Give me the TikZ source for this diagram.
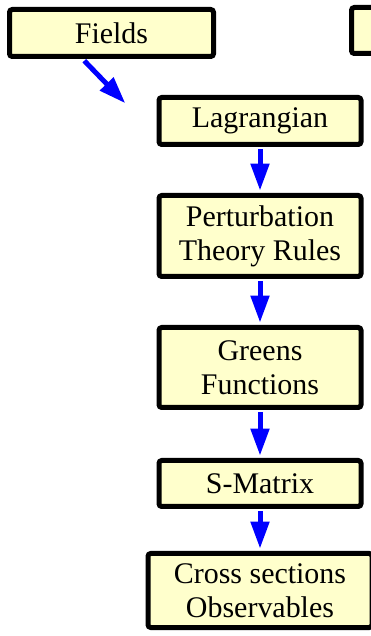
\documentclass[tikz,border=0pt]{standalone}
\usepackage{fontspec}
\setmainfont{Liberation Serif}
\usepackage{xcolor}
\usetikzlibrary{arrows.meta}
\definecolor{boxfill}{HTML}{FFFFCC}

\begin{document}
\begin{tikzpicture}[
        box/.style={draw=black, line width=0.125cm, rounded corners=0.07cm, fill=boxfill,
            minimum width=5.05cm, minimum height=1.175cm, inner sep=0pt, align=center,
            font=\fontsize{21.3}{24.2}\selectfont},
        flow/.style={draw=blue, line width=0.125cm, shorten <=0.06cm, shorten >=0.06cm,
            -{Triangle[length=0.675cm, width=0.45cm]}}
    ]
        \useasboundingbox (0,0) rectangle (9.275,15.9);

        % Top row
        \node[box, minimum width=5.1cm] (fields) at (2.7875,15.075) {Fields};
        \node[box, minimum width=5.1cm, minimum height=1.15cm] (other) at (11.3375,15.1375) {};
        \coordinate (lagin) at (3.175,13.275);

        % Chain
        \node[box] (lagr) at (6.5,12.875) {Lagrangian};
        \node[box, minimum height=2.025cm] (pert) at (6.5,10.0) {Perturbation\\Theory Rules};
        \node[box, minimum height=2.0cm] (greens) at (6.5,6.7125) {Greens\\Functions};
        \node[box, minimum height=1.15cm] (smat) at (6.5,3.8125) {S-Matrix};
        \node[box, minimum width=5.6cm, minimum height=1.85cm] (cross) at (6.5,1.1375) {Cross sections\\Observables};

        % Arrows
        \draw[flow] (fields.222) -- (lagin);
        \draw[flow] (lagr) -- (pert);
        \draw[flow] (pert) -- (greens);
        \draw[flow] (greens) -- (smat);
        \draw[flow] (smat) -- (cross);
    \end{tikzpicture}
\end{document}
